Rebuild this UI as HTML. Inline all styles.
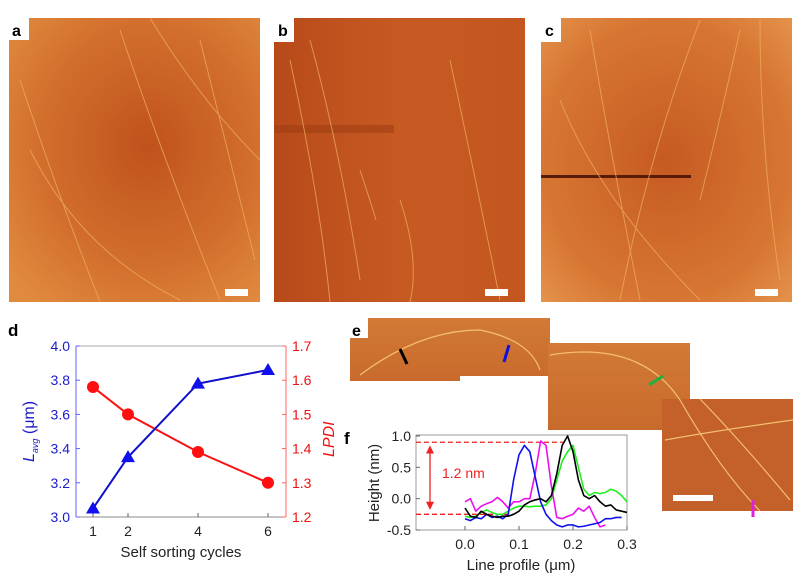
<!DOCTYPE html>
<html><head><meta charset="utf-8">
<style>
html,body{margin:0;padding:0;background:#fff;}
svg{display:block;font-family:"Liberation Sans",Arial,sans-serif;}
</style></head>
<body>
<svg id="fig" width="800" height="581" viewBox="0 0 800 581">
<defs>
<radialGradient id="ga" cx="0.55" cy="0.45" r="0.7">
<stop offset="0" stop-color="#c0521c"/><stop offset="0.6" stop-color="#d26e2c"/><stop offset="1" stop-color="#e08a3e"/></radialGradient>
<linearGradient id="gb" x1="0" x2="1"><stop offset="0" stop-color="#b84a1a"/><stop offset="0.5" stop-color="#c75a22"/><stop offset="1" stop-color="#c45620"/></linearGradient>
<radialGradient id="gc" cx="0.5" cy="0.5" r="0.7">
<stop offset="0" stop-color="#c65a22"/><stop offset="0.7" stop-color="#d77632"/><stop offset="1" stop-color="#e4924a"/></radialGradient>
<linearGradient id="ge" x1="0" x2="0" y1="0" y2="1"><stop offset="0" stop-color="#d27a36"/><stop offset="1" stop-color="#c86a2c"/></linearGradient>
</defs>

<g>
<rect x="9" y="18" width="251" height="284" fill="url(#ga)"/>
<path d="M20 80 Q60 200 100 302 M120 30 Q160 150 220 300 M200 40 Q240 200 255 260 M30 150 Q80 250 180 300 M150 18 Q200 100 260 160" stroke="#f0b060" stroke-width="1" fill="none" opacity="0.7"/>
<rect x="9" y="18" width="20" height="22" fill="#fff"/>
<text x="12" y="36" font-size="16" font-weight="bold">a</text>
<rect x="225" y="289" width="23" height="7" fill="#fff"/>
</g>
<g>
<rect x="274" y="18" width="251" height="284" fill="url(#gb)"/>
<rect x="274" y="125" width="120" height="8" fill="#9a3a12" opacity="0.5"/>
<path d="M290 60 Q320 200 330 302 M360 170 Q370 200 376 220 M400 200 Q420 260 410 302 M450 60 Q480 200 500 300 M310 40 Q340 150 360 280" stroke="#f0b060" stroke-width="1" fill="none" opacity="0.7"/>
<rect x="274" y="18" width="20" height="24" fill="#fff"/>
<text x="278" y="36" font-size="16" font-weight="bold">b</text>
<rect x="485" y="289" width="23" height="7" fill="#fff"/>
</g>
<g>
<rect x="541" y="18" width="251" height="284" fill="url(#gc)"/>
<rect x="541" y="175" width="150" height="3" fill="#5a1a08"/>
<path d="M590 30 Q610 150 640 300 M700 20 Q650 150 620 300 M740 30 Q720 120 700 200 M560 100 Q600 200 700 300 M760 20 Q760 150 780 280" stroke="#f0b060" stroke-width="1" fill="none" opacity="0.7"/>
<rect x="541" y="18" width="20" height="24" fill="#fff"/>
<text x="545" y="36" font-size="16" font-weight="bold">c</text>
<rect x="755" y="289" width="23" height="7" fill="#fff"/>
</g>

<g>
<path d="M368 318 H550 V376 H460 V381 H350 V336 H368 Z" fill="url(#ge)"/>
<rect x="548" y="343" width="142" height="87" fill="url(#ge)"/>
<rect x="662" y="399" width="131" height="112" fill="#c4602a"/>
<path d="M360 375 Q420 330 480 330 Q530 340 540 370 M550 355 Q640 340 680 400 Q720 470 760 511 M665 440 Q720 430 793 420 M700 399 Q740 440 790 500" stroke="#f4c070" stroke-width="1.2" fill="none"/>
<rect x="350" y="318" width="18" height="20" fill="#fff"/>
<text x="352" y="336" font-size="16" font-weight="bold">e</text>
<line x1="400" y1="349" x2="407" y2="364" stroke="#000" stroke-width="3"/>
<line x1="509" y1="345" x2="504" y2="362" stroke="#1010e0" stroke-width="3"/>
<line x1="649" y1="385" x2="663" y2="376" stroke="#20b040" stroke-width="3"/>
<line x1="753" y1="500" x2="753" y2="517" stroke="#e020e0" stroke-width="3"/>
<rect x="673" y="495" width="40" height="6" fill="#fff"/>
</g>

<text x="8" y="336" font-size="17" font-weight="bold">d</text>
<g id="chartD"></g>
<text x="344" y="444" font-size="17" font-weight="bold">f</text>
<g id="chartF"></g>
</svg>
<script>
const cycles=[1,2,4,6];
const lavg=[3.05,3.35,3.78,3.86];
const lpdi=[1.58,1.50,1.39,1.30];
const leftTicks=["3.0","3.2","3.4","3.6","3.8","4.0"];
const rightTicks=["1.2","1.3","1.4","1.5","1.6","1.7"];
const xTicksD=[1,2,4,6];

const fX=[0,0.01,0.02,0.03,0.04,0.05,0.06,0.07,0.08,0.09,0.10,0.11,0.12,0.13,0.14,0.15,0.16,0.17,0.18,0.19,0.20,0.21,0.22,0.23,0.24,0.25,0.26,0.27,0.28,0.29,0.30];
const blackY=[-0.15,-0.28,-0.3,-0.2,-0.25,-0.28,-0.3,-0.28,-0.28,-0.25,-0.2,-0.1,-0.05,-0.02,0.0,-0.05,0.05,0.4,0.85,1.0,0.75,0.3,0.05,0.0,0.05,-0.05,-0.12,-0.1,-0.18,-0.2,-0.22];
const blueY=[-0.32,-0.35,-0.3,-0.32,-0.25,-0.3,-0.28,-0.32,-0.25,0.3,0.7,0.85,0.75,0.35,-0.05,-0.25,-0.35,-0.42,-0.45,-0.42,-0.42,-0.45,-0.44,-0.42,-0.4,-0.38,-0.32,-0.32,-0.3,-0.3];
const magentaY=[-0.05,0.0,-0.2,-0.12,-0.08,-0.05,0.02,-0.05,-0.15,-0.05,-0.05,0.0,0.0,0.4,0.92,0.85,0.2,-0.3,-0.32,-0.28,-0.25,-0.15,-0.2,-0.12,-0.3,-0.45,-0.42];
const greenY=[-0.28,-0.3,-0.28,-0.22,-0.18,-0.22,-0.25,-0.25,-0.2,-0.15,-0.12,-0.12,-0.13,-0.12,-0.12,-0.1,0.0,0.3,0.6,0.75,0.85,0.5,0.15,0.05,0.1,0.08,0.1,0.15,0.12,0.05,-0.05];
const fYTicks=["-0.5","0.0","0.5","1.0"];
const fXTicks=["0.0","0.1","0.2","0.3"];

const NS="http://www.w3.org/2000/svg";
function mk(parent,tag,attrs){const e=document.createElementNS(NS,tag);for(const k in attrs)e.setAttribute(k,attrs[k]);parent.appendChild(e);return e;}

const gd=document.getElementById('chartD');
const dx=v=>93+(v-1)*35;
const dyL=v=>517-(v-3.0)/1.0*171;
const dyR=v=>517-(v-1.2)/0.5*171;
let e;
e=mk(gd,'line',{x1:76,y1:346,x2:76,y2:517,stroke:'#6060ff','stroke-width':1});


e=mk(gd,'line',{x1:286,y1:346,x2:286,y2:517,stroke:'#ff6060','stroke-width':1});


e=mk(gd,'line',{x1:76,y1:517,x2:286,y2:517,stroke:'#888','stroke-width':1});


e=mk(gd,'line',{x1:76,y1:346,x2:286,y2:346,stroke:'#aaa','stroke-width':1});


leftTicks.forEach(t=>{const y=dyL(+t);
 e=mk(gd,'text',{x:70,y:y+5,'text-anchor':'end','font-size':14,fill:'#1a1acc'});e.textContent=t;
 
 
 mk(gd,'line',{x1:76,y1:y,x2:80,y2:y,stroke:'#6060ff'});});
rightTicks.forEach(t=>{const y=dyR(+t);
 e=mk(gd,'text',{x:292,y:y+5,'font-size':14,fill:'#ee1111'});e.textContent=t;
 
 
 mk(gd,'line',{x1:282,y1:y,x2:286,y2:y,stroke:'#ff6060'});});
xTicksD.forEach(t=>{const x=dx(t);
 mk(gd,'line',{x1:x,y1:513,x2:x,y2:517,stroke:'#666'});
 e=mk(gd,'text',{x:x,y:536,'text-anchor':'middle','font-size':14,fill:'#222'});e.textContent=t;
 
 });
e=mk(gd,'text',{x:181,y:557,'text-anchor':'middle','font-size':15,fill:'#222'});e.textContent='Self sorting cycles';


e=mk(gd,'text',{x:0,y:0,'font-size':16,fill:'#1a1acc',transform:'translate(34,462) rotate(-90)'});
e.innerHTML='<tspan font-style="italic">L</tspan><tspan font-style="italic" font-size="9" dy="4">avg</tspan><tspan dy="-4"> (μm)</tspan>';


e=mk(gd,'text',{x:0,y:0,'font-size':16,fill:'#ee1111','font-style':'italic',transform:'translate(334,457) rotate(-90)'});e.textContent='LPDI';


e=mk(gd,'polyline',{points:cycles.map((c,i)=>dx(c)+','+dyR(lpdi[i])).join(' '),fill:'none',stroke:'#ff1010','stroke-width':2});


e=mk(gd,'polyline',{points:cycles.map((c,i)=>dx(c)+','+dyL(lavg[i])).join(' '),fill:'none',stroke:'#1010cc','stroke-width':2});


cycles.forEach((c,i)=>{
 e=mk(gd,'circle',{cx:dx(c),cy:dyR(lpdi[i]),r:6,fill:'#ff1010'});
 
 
 const x=dx(c),y=dyL(lavg[i]);
 e=mk(gd,'polygon',{points:`${x},${y-7} ${x-7},${y+5} ${x+7},${y+5}`,fill:'#1010ee'});
 
 
});

const gf=document.getElementById('chartF');
const fx=v=>465+v/0.3*162;
const fy=v=>530-(v+0.5)/1.5*94;
e=mk(gf,'rect',{x:416,y:435,width:211,height:95,fill:'#fff',stroke:'#999','stroke-width':1});


fYTicks.forEach(t=>{const y=fy(+t);
 mk(gf,'line',{x1:416,y1:y,x2:420,y2:y,stroke:'#666'});
 e=mk(gf,'text',{x:411,y:y+5,'text-anchor':'end','font-size':14,fill:'#222'});e.textContent=t;
 
 });
fXTicks.forEach(t=>{const x=fx(+t);
 mk(gf,'line',{x1:x,y1:526,x2:x,y2:530,stroke:'#666'});
 e=mk(gf,'text',{x:x,y:549,'text-anchor':'middle','font-size':14,fill:'#222'});e.textContent=t;
 
 });
e=mk(gf,'text',{x:521,y:570,'text-anchor':'middle','font-size':15,fill:'#222'});e.textContent='Line profile (μm)';


e=mk(gf,'text',{x:0,y:0,'font-size':15,fill:'#222','text-anchor':'middle',transform:'translate(379,483) rotate(-90)'});e.textContent='Height (nm)';


e=mk(gf,'line',{x1:416,y1:fy(0.9),x2:fx(0.19),y2:fy(0.9),stroke:'#ee2222','stroke-width':1.3,'stroke-dasharray':'5,3'});


e=mk(gf,'line',{x1:416,y1:fy(-0.25),x2:fx(0.09),y2:fy(-0.25),stroke:'#ee2222','stroke-width':1.3,'stroke-dasharray':'5,3'});


e=mk(gf,'line',{x1:430,y1:fy(0.82),x2:430,y2:fy(-0.15),stroke:'#ee2222','stroke-width':1.3});


mk(gf,'polygon',{points:`430,${fy(0.85)} 426,${fy(0.72)} 434,${fy(0.72)}`,fill:'#ee2222'});
mk(gf,'polygon',{points:`430,${fy(-0.18)} 426,${fy(-0.05)} 434,${fy(-0.05)}`,fill:'#ee2222'});
e=mk(gf,'text',{x:442,y:478,'font-size':14,fill:'#ee2222'});e.textContent='1.2 nm';


[[greenY,'#20ee20','green-profile'],[magentaY,'#ee10ee','magenta-profile'],[blueY,'#1010ee','blue-profile'],[blackY,'#000','black-profile']].forEach(s=>{
 e=mk(gf,'polyline',{points:s[0].map((v,i)=>fx(fX[i])+','+fy(v)).join(' '),fill:'none',stroke:s[1],'stroke-width':1.6,'stroke-linejoin':'round'});
 
 
});
</script>
</body></html>
